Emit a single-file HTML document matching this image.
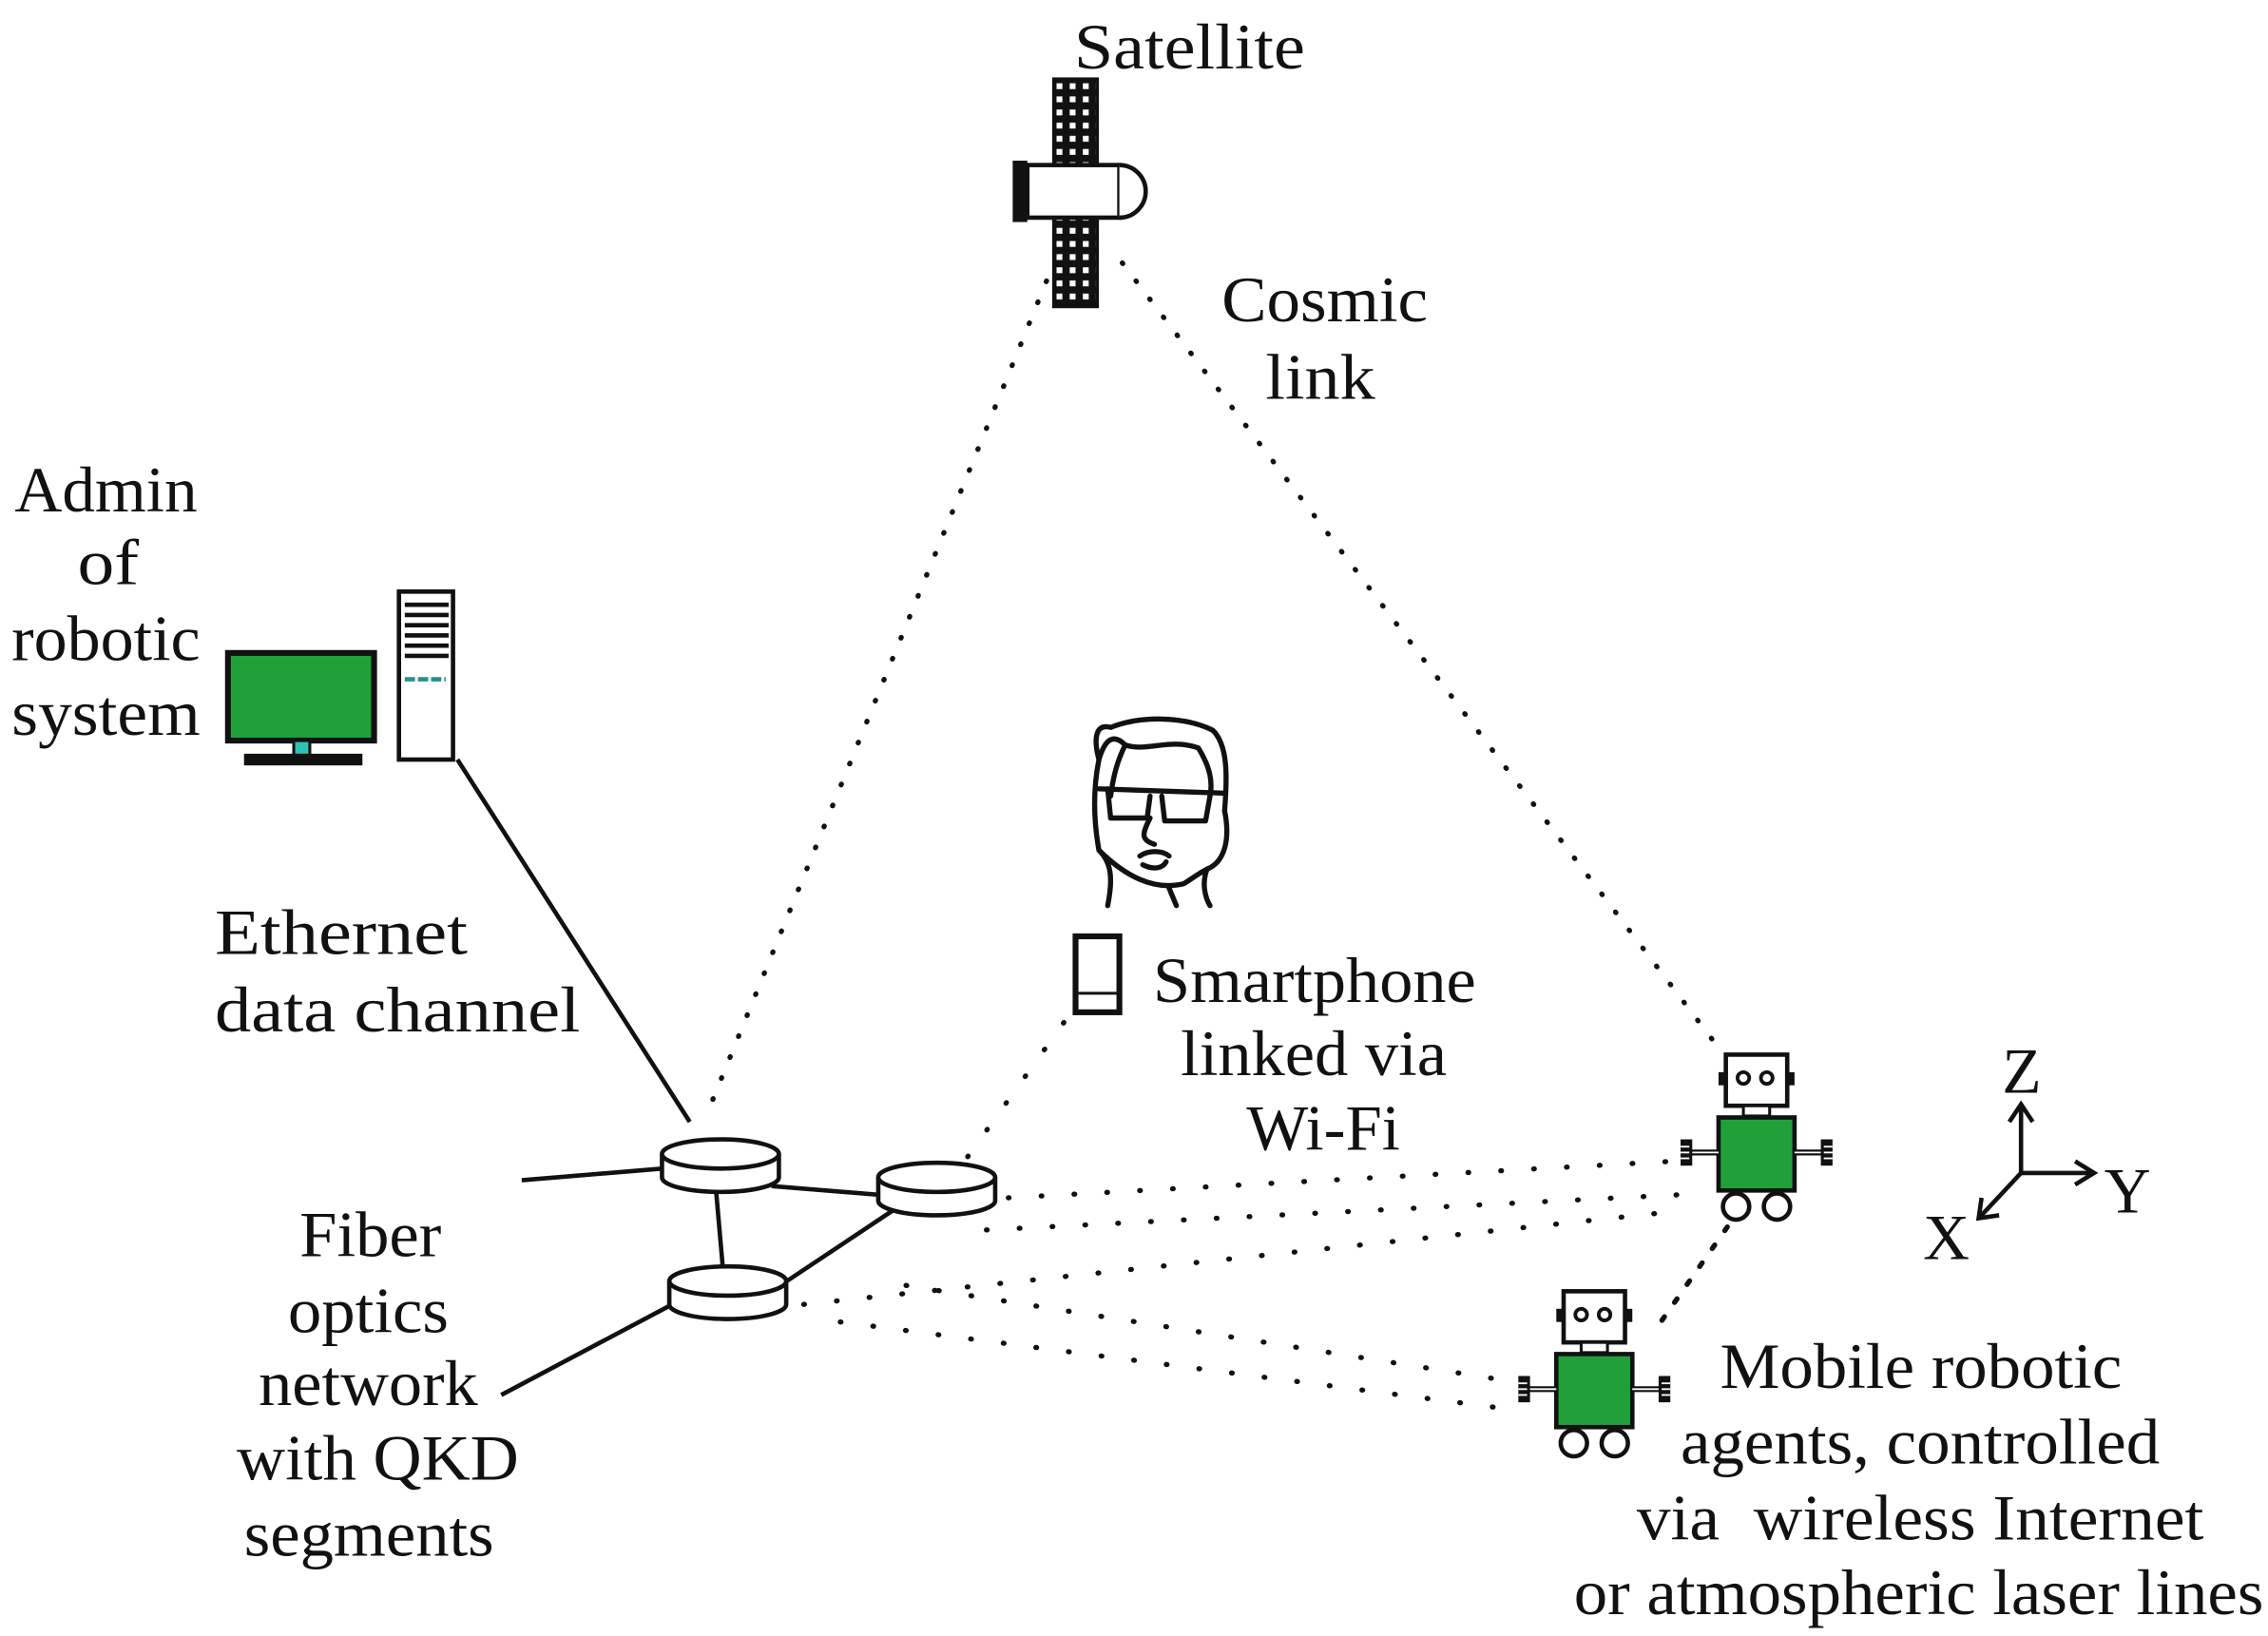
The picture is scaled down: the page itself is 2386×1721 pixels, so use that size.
<!DOCTYPE html>
<html><head><meta charset="utf-8"><style>
html,body{margin:0;padding:0;background:#fff;}
svg{display:block;}
text{font-family:"Liberation Serif",serif;font-size:44px;fill:#111;}
</style></head><body>
<svg width="2386" height="1721" viewBox="0 0 1552 1120" preserveAspectRatio="none" xmlns="http://www.w3.org/2000/svg">
<defs>
<pattern id="grid" x="0" y="0" width="9" height="9" patternUnits="userSpaceOnUse">
<rect width="9" height="9" fill="#111"/><rect x="3" y="3" width="4" height="4" fill="#fff"/>
</pattern>
<g id="robot">
<rect x="5" y="0" width="42" height="35" fill="#fff" stroke="#111" stroke-width="3"/>
<rect x="0" y="12" width="6" height="9" fill="#111"/><rect x="46" y="12" width="6" height="9" fill="#111"/>
<circle cx="17" cy="16" r="4" fill="none" stroke="#111" stroke-width="2.5"/>
<circle cx="33" cy="16" r="4" fill="none" stroke="#111" stroke-width="2.5"/>
<rect x="17" y="35" width="18" height="7" fill="#fff" stroke="#111" stroke-width="2"/>
<rect x="0" y="43" width="52" height="50" fill="#21a03a" stroke="#111" stroke-width="3"/>
<line x1="-20" y1="67" x2="0" y2="67" stroke="#111" stroke-width="4"/>
<line x1="-20" y1="67" x2="0" y2="67" stroke="#fff" stroke-width="1.2"/>
<line x1="52" y1="67" x2="72" y2="67" stroke="#111" stroke-width="4"/>
<line x1="52" y1="67" x2="72" y2="67" stroke="#fff" stroke-width="1.2"/>
<rect x="-26" y="58" width="8" height="18" fill="#111"/><rect x="70" y="58" width="8" height="18" fill="#111"/>
<g stroke="#fff" stroke-width="1.2"><line x1="-26" y1="63" x2="-20" y2="63"/><line x1="-26" y1="67" x2="-20" y2="67"/><line x1="-26" y1="71" x2="-20" y2="71"/><line x1="72" y1="63" x2="78" y2="63"/><line x1="72" y1="67" x2="78" y2="67"/><line x1="72" y1="71" x2="78" y2="71"/></g>
<circle cx="12" cy="104" r="9" fill="#fff" stroke="#111" stroke-width="3"/>
<circle cx="40" cy="104" r="9" fill="#fff" stroke="#111" stroke-width="3"/>
</g>
<g id="router">
<path d="M-40 0 v16 a40 10 0 0 0 80 0 v-16" fill="#fff" stroke="#111" stroke-width="3"/>
<ellipse cx="0" cy="0" rx="40" ry="10" fill="#fff" stroke="#111" stroke-width="3"/>
</g>
</defs>

<g stroke="#111" stroke-width="3.5" stroke-linecap="round" fill="none">
<line x1="722" y1="178" x2="484" y2="762" stroke-dasharray="0.5 15"/>
<line x1="768" y1="180" x2="1172" y2="712" stroke-dasharray="0.5 15"/>
<line x1="1182" y1="840" x2="1133" y2="910" stroke-dasharray="3 12"/>
<line x1="728" y1="700" x2="660" y2="795" stroke-dasharray="0.5 22"/>
<line x1="690" y1="820" x2="1145" y2="795" stroke-dasharray="0.5 22"/>
<line x1="675" y1="842" x2="1148" y2="818" stroke-dasharray="0.5 22"/>
<line x1="550" y1="893" x2="1140" y2="830" stroke-dasharray="0.5 22"/>
<line x1="575" y1="905" x2="1035" y2="965" stroke-dasharray="0.5 22"/>
<line x1="620" y1="880" x2="1030" y2="945" stroke-dasharray="0.5 22"/>
</g>

<g stroke="#111" stroke-width="3" fill="none">
<line x1="313" y1="520" x2="472" y2="768"/>
<line x1="357" y1="808" x2="453" y2="800"/>
<line x1="490" y1="815" x2="495" y2="872"/>
<line x1="528" y1="812" x2="602" y2="818"/>
<line x1="537" y1="878" x2="612" y2="828"/>
<line x1="343" y1="955" x2="460" y2="893"/>
</g>
<use href="#router" x="493" y="790"/>
<use href="#router" x="641" y="806"/>
<use href="#router" x="498" y="877"/>

<rect x="721" y="54" width="30" height="59" fill="url(#grid)" stroke="#111" stroke-width="2"/>
<rect x="721" y="148" width="30" height="62" fill="url(#grid)" stroke="#111" stroke-width="2"/>
<rect x="703" y="113" width="63" height="36" fill="#fff" stroke="#111" stroke-width="3"/>
<path d="M766 113 a18 18 0 0 1 0 36" fill="#fff" stroke="#111" stroke-width="3"/>
<rect x="693" y="110" width="10" height="42" fill="#111"/>

<rect x="156" y="447" width="100" height="60" fill="#21a03a" stroke="#111" stroke-width="4"/>
<rect x="201" y="507" width="11" height="10" fill="#2fc2b6" stroke="#111" stroke-width="2"/>
<rect x="167" y="516" width="81" height="8" fill="#111"/>
<rect x="273" y="405" width="37" height="115" fill="#fff" stroke="#111" stroke-width="3"/>
<g stroke="#111" stroke-width="3"><line x1="277" y1="414" x2="307" y2="414"/><line x1="277" y1="421" x2="307" y2="421"/><line x1="277" y1="428" x2="307" y2="428"/><line x1="277" y1="435" x2="307" y2="435"/><line x1="277" y1="442" x2="307" y2="442"/><line x1="277" y1="449" x2="307" y2="449"/></g>
<line x1="277" y1="465" x2="305" y2="465" stroke="#2a8f8a" stroke-width="3" stroke-dasharray="7 2"/>

<g stroke="#111" stroke-width="3.5" fill="none" stroke-linecap="round" stroke-linejoin="round">
<path d="M758 620 C762 600 760 590 752 582 C748 560 748 540 752 520 C748 505 750 495 760 498 C780 490 810 490 830 500 C840 510 840 530 838 555"/>
<path d="M760 545 C762 530 765 520 770 510 C785 515 800 505 820 512 C828 525 830 535 828 545"/>
<path d="M752 520 C755 510 760 500 770 510"/>
<path d="M752 540 L838 543 M758 540 L760 560 L785 560 L787 545 M795 545 L797 562 L825 562 L828 545"/>
<path d="M838 555 C842 575 838 590 826 595 C822 605 825 615 828 620"/>
<path d="M752 582 C770 600 790 610 810 605 C815 602 820 598 826 595"/>
<path d="M787 560 C782 570 780 575 790 578 M780 586 C786 582 795 582 800 586 M782 592 C790 596 796 594 798 590"/>
<path d="M800 608 L805 620"/>
</g>

<rect x="736" y="641" width="30" height="52" fill="#fff" stroke="#111" stroke-width="4"/>
<line x1="738" y1="680" x2="764" y2="680" stroke="#111" stroke-width="2"/>

<use href="#robot" x="1176" y="722"/>
<use href="#robot" x="1065" y="884"/>

<g stroke="#111" stroke-width="3" fill="none">
<line x1="1383" y1="803" x2="1383" y2="758"/><path d="M1375 768 L1383 756 L1391 768"/>
<line x1="1383" y1="803" x2="1432" y2="803"/><path d="M1420 795 L1433 803 L1420 811"/>
<line x1="1383" y1="803" x2="1355" y2="833"/><path d="M1356 820 L1354 834 L1368 832"/>
</g>

<g lengthAdjust="spacingAndGlyphs">
<text x="735" y="47" textLength="158" lengthAdjust="spacingAndGlyphs">Satellite</text>
<text x="836" y="220" textLength="141" lengthAdjust="spacingAndGlyphs">Cosmic</text>
<text x="866" y="273" textLength="75" lengthAdjust="spacingAndGlyphs">link</text>
<text x="10" y="350" textLength="125" lengthAdjust="spacingAndGlyphs">Admin</text>
<text x="53" y="400" textLength="42" lengthAdjust="spacingAndGlyphs">of</text>
<text x="8" y="452" textLength="129" lengthAdjust="spacingAndGlyphs">robotic</text>
<text x="8" y="503" textLength="129" lengthAdjust="spacingAndGlyphs">system</text>
<text x="147" y="653" textLength="173" lengthAdjust="spacingAndGlyphs">Ethernet</text>
<text x="147" y="706" textLength="250" lengthAdjust="spacingAndGlyphs">data channel</text>
<text x="789" y="686" textLength="221" lengthAdjust="spacingAndGlyphs">Smartphone</text>
<text x="808" y="736" textLength="182" lengthAdjust="spacingAndGlyphs">linked via</text>
<text x="853" y="787" textLength="105" lengthAdjust="spacingAndGlyphs">Wi-Fi</text>
<text x="205" y="860" textLength="97" lengthAdjust="spacingAndGlyphs">Fiber</text>
<text x="197" y="912" textLength="110" lengthAdjust="spacingAndGlyphs">optics</text>
<text x="177" y="962" textLength="150" lengthAdjust="spacingAndGlyphs">network</text>
<text x="162" y="1013" textLength="193" lengthAdjust="spacingAndGlyphs">with QKD</text>
<text x="167" y="1065" textLength="171" lengthAdjust="spacingAndGlyphs">segments</text>
<text x="1177" y="950" textLength="275" lengthAdjust="spacingAndGlyphs">Mobile robotic</text>
<text x="1150" y="1002" textLength="328" lengthAdjust="spacingAndGlyphs">agents, controlled</text>
<text x="1120" y="1054" textLength="388" lengthAdjust="spacingAndGlyphs" xml:space="preserve">via  wireless Internet</text>
<text x="1077" y="1105" textLength="472" lengthAdjust="spacingAndGlyphs">or atmospheric laser lines</text>
</g>
<text x="1370" y="748" font-size="38">Z</text>
<text x="1440" y="830" font-size="38">Y</text>
<text x="1316" y="862" font-size="38">X</text>
</svg>
</body></html>
